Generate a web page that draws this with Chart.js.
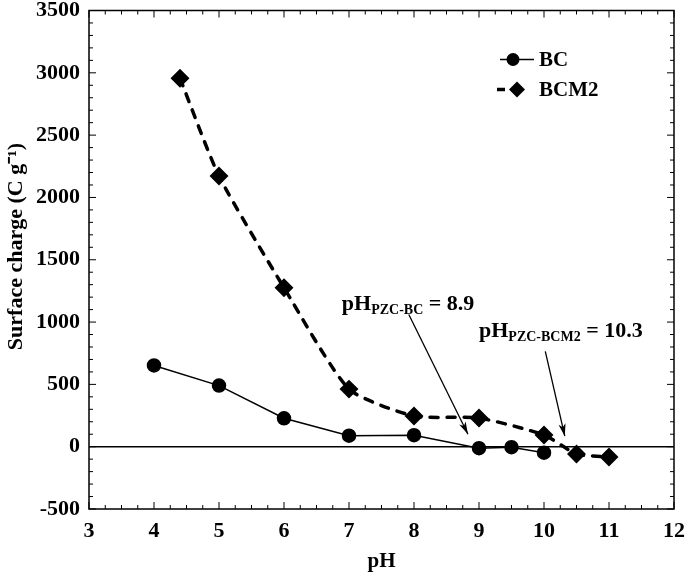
<!DOCTYPE html>
<html>
<head>
<meta charset="utf-8">
<script src="https://cdn.jsdelivr.net/npm/chart.js@4/dist/chart.umd.min.js"></script>
<style>
  html, body { margin: 0; padding: 0; background: #fff; }
  #wrap { width: 685px; height: 578px; }
</style>
</head>
<body>
<div id="wrap"><canvas id="chart" width="685" height="578"></canvas></div>
<script>
// Values
var bcPH = [4, 5, 6, 7, 8, 9, 9.5, 10];
var bcCharge = [652, 490, 228, 88, 92, -12, -4, -48];
var bcm2PH = [4.4, 5, 6, 7, 8, 9, 10, 10.5, 11];
var bcm2Charge = [2956, 2172, 1276, 462, 246, 230, 94, -58, -82];

// pH of zero charge annotations: label anchor, arrow start and arrow tip (data units)
var pzcNotes = [
  { sub: 'PZC-BC', value: '= 8.9', at: [6.89, 1100], from: [7.92, 1060], to: [8.83, 100] },
  { sub: 'PZC-BCM2', value: '= 10.3', at: [9.0, 884], from: [10.02, 764], to: [10.32, 84] }
];

var yTitle = 'Surface charge (C g\u207B\u00B9)';
var FONT = '"Liberation Serif", "Times New Roman", serif';

function toXY(xs, ys) {
  return xs.map(function(x, i) { return { x: x, y: ys[i] }; });
}

// Inside ticks on all four sides plus frame, legend, y title and annotations
var decorPlugin = {
  id: 'decor',
  afterDraw: function(chart) {
    var ctx = chart.ctx;
    var xs = chart.scales.x, ys = chart.scales.y;
    var a = chart.chartArea;
    ctx.save();
    ctx.strokeStyle = '#000';
    ctx.fillStyle = '#000';
    ctx.lineWidth = 1.5;
    ctx.strokeRect(a.left, a.top, a.right - a.left, a.bottom - a.top);

    ctx.lineWidth = 1;
    var v, px, len;
    for (v = 3; v <= 12.001; v += 0.25) {
      px = xs.getPixelForValue(v);
      len = Math.abs(v - Math.round(v)) < 1e-6 ? 7 : 4;
      ctx.beginPath();
      ctx.moveTo(px, a.bottom); ctx.lineTo(px, a.bottom - len);
      ctx.moveTo(px, a.top); ctx.lineTo(px, a.top + len);
      ctx.stroke();
    }
    for (v = -500; v <= 3500; v += 100) {
      px = ys.getPixelForValue(v);
      len = v % 500 === 0 ? 7 : 4;
      ctx.beginPath();
      ctx.moveTo(a.left, px); ctx.lineTo(a.left + len, px);
      ctx.moveTo(a.right, px); ctx.lineTo(a.right - len, px);
      ctx.stroke();
    }

    // y axis title, sits a little above the middle of the plot in the original
    ctx.save();
    ctx.translate(16, a.top + 236);
    ctx.rotate(-Math.PI / 2);
    ctx.font = 'bold 22px ' + FONT;
    ctx.textAlign = 'center';
    ctx.textBaseline = 'middle';
    ctx.fillText(yTitle, 0, 0);
    ctx.restore();

    // annotations
    pzcNotes.forEach(function(n) {
      var tx = xs.getPixelForValue(n.at[0]), ty = ys.getPixelForValue(n.at[1]);
      ctx.textBaseline = 'alphabetic';
      ctx.textAlign = 'left';
      ctx.font = 'bold 22px ' + FONT;
      ctx.fillText('pH', tx, ty);
      var w = ctx.measureText('pH').width;
      ctx.font = 'bold 14px ' + FONT;
      ctx.fillText(n.sub, tx + w, ty + 4);
      var w2 = ctx.measureText(n.sub).width;
      ctx.font = 'bold 22px ' + FONT;
      ctx.fillText(' ' + n.value, tx + w + w2, ty);

      var x1 = xs.getPixelForValue(n.from[0]), y1 = ys.getPixelForValue(n.from[1]);
      var x2 = xs.getPixelForValue(n.to[0]), y2 = ys.getPixelForValue(n.to[1]);
      ctx.lineWidth = 1.3;
      ctx.beginPath(); ctx.moveTo(x1, y1); ctx.lineTo(x2, y2); ctx.stroke();
      var ang = Math.atan2(y2 - y1, x2 - x1);
      var hl = 13, hw = 0.28;
      ctx.beginPath();
      ctx.moveTo(x2, y2);
      ctx.lineTo(x2 - hl * Math.cos(ang - hw), y2 - hl * Math.sin(ang - hw));
      ctx.lineTo(x2 - hl * 0.7 * Math.cos(ang), y2 - hl * 0.7 * Math.sin(ang));
      ctx.lineTo(x2 - hl * Math.cos(ang + hw), y2 - hl * Math.sin(ang + hw));
      ctx.closePath();
      ctx.fill();
    });

    // legend
    var lx = a.left + 411, ly = a.top + 49;
    ctx.lineWidth = 1.5;
    ctx.beginPath(); ctx.moveTo(lx, ly); ctx.lineTo(lx + 34, ly); ctx.stroke();
    ctx.beginPath(); ctx.arc(lx + 13, ly, 6.5, 0, Math.PI * 2); ctx.fill();
    ctx.lineWidth = 3.5;
    ctx.beginPath(); ctx.moveTo(lx - 3, ly + 30); ctx.lineTo(lx + 5, ly + 30); ctx.stroke();
    ctx.beginPath();
    ctx.moveTo(lx + 17, ly + 22); ctx.lineTo(lx + 25, ly + 30);
    ctx.lineTo(lx + 17, ly + 38); ctx.lineTo(lx + 9, ly + 30);
    ctx.closePath(); ctx.fill();
    ctx.font = 'bold 21px ' + FONT;
    ctx.textBaseline = 'middle';
    ctx.textAlign = 'left';
    ctx.fillText('BC', lx + 39, ly + 1);
    ctx.fillText('BCM2', lx + 39, ly + 31);
    ctx.restore();
  }
};

new Chart(document.getElementById('chart').getContext('2d'), {
  type: 'scatter',
  plugins: [decorPlugin],
  data: {
    datasets: [
      {
        label: 'BC',
        data: toXY(bcPH, bcCharge),
        showLine: true,
        borderColor: '#000',
        backgroundColor: '#000',
        borderWidth: 1.5,
        pointStyle: 'circle',
        pointRadius: 6.5,
        pointHoverRadius: 6.5
      },
      {
        label: 'BCM2',
        data: toXY(bcm2PH, bcm2Charge),
        showLine: true,
        borderColor: '#000',
        backgroundColor: '#000',
        borderWidth: 3.5,
        borderDash: [8, 9],
        borderCapStyle: 'round',
        tension: 0.2,
        pointStyle: 'rectRot',
        pointRadius: 7,
        pointHoverRadius: 7
      }
    ]
  },
  options: {
    responsive: false,
    animation: false,
    layout: { padding: { top: 9, right: 11, left: 0, bottom: 0 } },
    plugins: { legend: { display: false }, tooltip: { enabled: false } },
    scales: {
      x: {
        type: 'linear',
        min: 3, max: 12,
        afterFit: function(s) { s.height = 69; s.paddingLeft = 0; s.paddingRight = 0; },
        ticks: { stepSize: 1, color: '#000', padding: 9, font: { family: FONT, size: 22, weight: 'bold' } },
        grid: { display: false, drawTicks: false },
        border: { display: false },
        title: { display: true, text: 'pH', color: '#000', padding: { top: 10 }, font: { family: FONT, size: 21, weight: 'bold' } }
      },
      y: {
        min: -500, max: 3500,
        afterFit: function(s) { s.width = 89; s.paddingTop = 0; s.paddingBottom = 0; },
        ticks: {
          stepSize: 500, color: '#000', padding: 9,
          font: { family: FONT, size: 22, weight: 'bold' },
          callback: function(val) { return String(val); }
        },
        grid: {
          drawTicks: false,
          lineWidth: 1.5,
          color: function(c) { return c.tick && c.tick.value === 0 ? '#000' : 'rgba(0,0,0,0)'; }
        },
        border: { display: false },
        title: { display: false }
      }
    }
  }
});
</script>
</body>
</html>
